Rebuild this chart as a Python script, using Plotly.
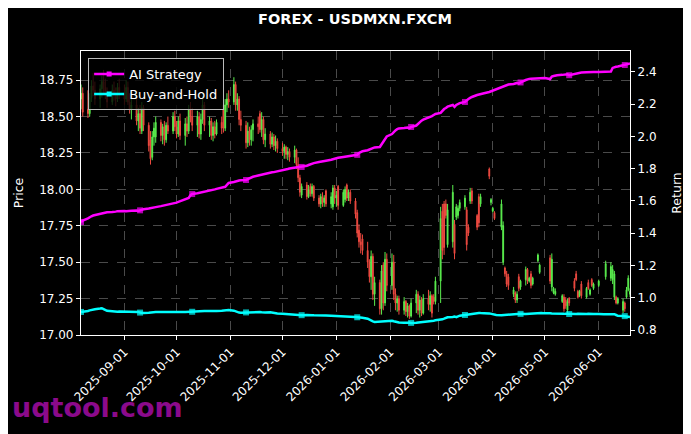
import pandas as pd
import plotly.graph_objects as go

# ---------------- data ----------------
start_date = "2025-08-07"
end_date = "2026-06-19"

# daily OHLC (USDMXN), one value per business day, None = no candle
price_open = (
    [18.62,18.66,18.55,18.52,18.63,18.71,18.68,18.62,18.69,18.74,18.70,18.66,18.60,18.68,18.65,18.62,18.70]  # Aug
    + [18.66,18.62,18.70,18.60,18.55,18.58,18.47,18.52,18.40,18.56,18.44,18.34,18.22,18.36,18.36,18.46,18.37,18.43,18.34,18.44,18.40,18.50]  # Sep
    + [18.43,18.38,18.47,18.37,18.45,18.40,18.55,18.50,18.44,18.50,18.38,18.48,18.58,18.44,18.47,18.37,18.43,18.38,18.46,18.58,18.42,18.58,18.62]  # Oct
    + [18.60,18.72,18.58,18.62,18.48,18.44,18.32,18.40,18.34,18.41,18.45,18.52,18.41,18.48,18.34,18.38,18.31,18.36,18.30,18.33]  # Nov
    + [18.28,18.26,18.29,18.24,18.26,18.22,18.27,18.17,18.08,17.96,18.03,17.95,18.02,17.97,18.02,17.94,17.90,17.95,17.91,17.99,17.90,17.88,18.01]  # Dec
    + [17.94,18.02,17.89,17.93,18.03,17.94,17.98,17.92,17.84,17.72,17.64,17.66,17.58,17.50,17.40,17.54,17.28,17.36,17.18,17.48,17.22,17.52]  # Jan
    + [17.34,17.50,17.28,17.22,17.25,17.17,17.23,17.16,17.20,17.13,17.22,17.28,17.17,17.24,17.15,17.25,17.21,17.27,17.26,17.23]  # Feb
    + [17.37,17.85,17.90,17.90,17.62,17.64,17.76,17.81,17.82,17.87,17.88,17.86,17.74,17.92,17.99,17.82,17.95,17.90,None,None,18.14,17.91]  # Mar
    + [17.85,17.84,None,17.74,17.50,17.46,17.42,17.40,17.28,17.29,17.24,17.40,17.33,17.38,17.45,17.37,17.42,17.35,17.51,17.43,None,None]  # Apr
    + [None,17.53,17.33,17.29,17.28,None,17.23,17.26,17.24,17.17,17.25,17.37,17.42,17.30,17.27,17.35,17.26,17.36,17.28,17.38,17.32]  # May
    + [17.34,None,None,None,17.40,17.39,17.38,17.26,17.26,17.22,17.17,17.22,17.26,17.31,17.28]  # Jun
)
price_high = (
    [18.72,18.70,18.68,18.66,18.75,18.80,18.74,18.72,18.78,18.82,18.76,18.70,18.72,18.74,18.70,18.73,18.76]
    + [18.72,18.75,18.74,18.66,18.62,18.64,18.56,18.58,18.60,18.58,18.46,18.40,18.40,18.46,18.50,18.48,18.45,18.47,18.46,18.50,18.53,18.54]
    + [18.47,18.50,18.52,18.49,18.50,18.58,18.60,18.56,18.54,18.53,18.52,18.64,18.60,18.50,18.49,18.46,18.47,18.48,18.50,18.60,18.62,18.66,18.68]
    + [18.77,18.74,18.66,18.64,18.54,18.47,18.46,18.43,18.44,18.48,18.50,18.54,18.53,18.50,18.42,18.40,18.39,18.38,18.37,18.35]
    + [18.32,18.31,18.30,18.29,18.28,18.30,18.28,18.22,18.10,18.04,18.05,18.03,18.04,18.04,18.03,17.96,17.97,17.98,17.96,18.00,17.98,18.03,18.03]
    + [17.99,18.03,18.00,18.02,18.04,18.00,18.00,17.94,17.86,17.76,17.70,17.69,17.64,17.52,17.58,17.56,17.40,17.38,17.48,17.50,17.57,17.56]
    + [17.56,17.55,17.32,17.27,17.27,17.26,17.24,17.22,17.21,17.25,17.31,17.30,17.27,17.26,17.28,17.31,17.30,17.28,17.28,17.40]
    + [17.88,17.90,17.92,17.93,17.90,18.03,17.79,17.90,17.89,17.93,17.96,17.88,17.76,18.01,18.01,17.83,17.97,17.97,None,None,18.15,17.94]
    + [17.88,17.85,None,17.93,17.78,17.47,17.44,17.42,17.33,17.30,17.30,17.42,17.38,17.47,17.46,17.40,17.44,17.40,17.56,17.49,None,None]
    + [None,17.55,17.56,17.33,17.32,None,17.28,17.28,17.26,17.25,17.26,17.39,17.44,17.31,17.31,17.37,17.33,17.38,17.32,17.39,17.36]
    + [17.38,None,None,None,17.51,17.50,17.48,17.44,17.27,17.26,17.25,17.23,17.33,17.41,17.32]
)
price_low = (
    [18.55,18.50,18.49,18.50,18.60,18.64,18.58,18.56,18.63,18.66,18.62,18.56,18.58,18.61,18.57,18.60,18.62]
    + [18.58,18.60,18.58,18.52,18.48,18.44,18.40,18.38,18.38,18.40,18.26,18.17,18.20,18.30,18.32,18.33,18.31,18.30,18.32,18.38,18.38,18.40]
    + [18.35,18.36,18.34,18.30,18.36,18.38,18.46,18.40,18.36,18.35,18.34,18.45,18.40,18.36,18.34,18.33,18.35,18.37,18.38,18.39,18.40,18.53,18.56]
    + [18.58,18.54,18.54,18.44,18.40,18.28,18.29,18.30,18.30,18.33,18.38,18.39,18.36,18.31,18.29,18.28,18.29,18.27,18.26,18.25]
    + [18.23,18.21,18.21,18.20,18.19,18.18,18.14,18.05,17.95,17.94,17.93,17.94,17.95,17.95,17.92,17.88,17.87,17.88,17.88,17.88,17.87,17.86,17.90]
    + [17.88,17.86,17.88,17.91,17.92,17.92,17.90,17.80,17.67,17.60,17.56,17.55,17.46,17.36,17.31,17.24,17.20,17.14,17.14,17.17,17.20,17.30]
    + [17.31,17.24,17.17,17.16,17.14,17.14,17.13,17.12,17.11,17.12,17.15,17.14,17.12,17.13,17.14,17.17,17.16,17.12,17.21,17.21]
    + [17.22,17.52,17.55,17.80,17.60,17.60,17.52,17.79,17.80,17.85,17.86,17.58,17.68,17.90,17.90,17.72,17.74,17.88,None,None,18.07,17.89]
    + [17.84,17.79,None,17.72,17.48,17.40,17.33,17.31,17.26,17.22,17.22,17.30,17.31,17.34,17.35,17.36,17.32,17.34,17.50,17.42,None,None]
    + [None,17.35,17.30,17.28,17.27,None,17.22,17.16,17.18,17.15,17.20,17.30,17.37,17.25,17.26,17.25,17.25,17.31,17.27,17.33,17.31]
    + [17.33,None,None,None,17.38,17.37,17.35,17.24,17.21,17.21,17.15,17.16,17.25,17.30,17.26]
)
price_close = (
    [18.66,18.53,18.52,18.63,18.71,18.68,18.62,18.69,18.74,18.70,18.66,18.60,18.68,18.65,18.62,18.70,18.66]
    + [18.62,18.70,18.60,18.55,18.58,18.47,18.52,18.42,18.56,18.44,18.30,18.21,18.36,18.42,18.46,18.37,18.43,18.34,18.44,18.40,18.50,18.43]
    + [18.38,18.47,18.37,18.45,18.40,18.55,18.50,18.44,18.50,18.38,18.48,18.58,18.44,18.47,18.37,18.43,18.38,18.46,18.42,18.42,18.58,18.62,18.60]
    + [18.72,18.58,18.62,18.48,18.44,18.32,18.40,18.34,18.41,18.45,18.43,18.41,18.48,18.34,18.38,18.31,18.36,18.30,18.33,18.28]
    + [18.26,18.29,18.24,18.26,18.22,18.27,18.17,18.08,17.98,18.02,17.95,18.00,17.97,18.02,17.94,17.90,17.95,17.91,17.94,17.90,17.95,18.01,17.94]
    + [17.96,17.89,17.98,18.00,17.94,17.98,17.92,17.83,17.70,17.64,17.62,17.58,17.50,17.40,17.54,17.28,17.36,17.18,17.44,17.22,17.52,17.34]
    + [17.50,17.28,17.22,17.25,17.17,17.23,17.16,17.20,17.13,17.22,17.28,17.17,17.24,17.15,17.25,17.21,17.27,17.15,17.23,17.37]
    + [17.80,17.58,17.60,17.82,17.86,17.98,17.56,17.88,17.87,17.91,17.94,17.62,17.70,17.98,17.92,17.74,17.77,17.95,None,None,18.09,17.93]
    + [17.87,17.80,None,17.90,17.75,17.42,17.35,17.34,17.31,17.24,17.28,17.32,17.37,17.45,17.37,17.39,17.34,17.39,17.55,17.48,None,None]
    + [None,17.37,17.52,17.32,17.30,None,17.27,17.18,17.20,17.23,17.22,17.32,17.38,17.26,17.30,17.27,17.32,17.32,17.31,17.34,17.35]
    + [17.37,None,None,None,17.49,17.47,17.45,17.42,17.22,17.25,17.23,17.18,17.31,17.39,17.30]
)

# cumulative returns (right axis)
ai_strategy = (
    [1.470,1.478,1.492,1.500,1.505,1.510,1.513,1.520,1.524,1.526,1.528,1.530,1.532,1.531,1.534,1.537,1.538]
    + [1.538,1.537,1.539,1.540,1.540,1.541,1.538,1.542,1.546,1.549,1.553,1.556,1.558,1.560,1.562,1.568,1.570,1.572,1.574,1.576,1.583,1.586]
    + [1.590,1.594,1.598,1.610,1.615,1.619,1.636,1.643,1.648,1.650,1.653,1.657,1.660,1.664,1.667,1.669,1.672,1.675,1.682,1.685,1.688,1.700,1.712]
    + [1.718,1.722,1.725,1.727,1.728,1.730,1.736,1.741,1.745,1.750,1.758,1.761,1.764,1.767,1.770,1.776,1.778,1.779,1.781,1.784]
    + [1.788,1.791,1.795,1.798,1.801,1.805,1.807,1.809,1.810,1.811,1.818,1.823,1.828,1.832,1.835,1.842,1.845,1.847,1.849,1.850,1.856,1.860,1.863]
    + [1.866,1.868,1.873,1.875,1.878,1.880,1.882,1.885,1.886,1.898,1.904,1.908,1.915,1.920,1.925,1.929,1.932,1.935,1.950,1.968,1.985,2.000]
    + [2.015,2.028,2.038,2.045,2.050,2.053,2.055,2.056,2.052,2.059,2.068,2.080,2.090,2.098,2.104,2.115,2.120,2.126,2.133,2.140]
    + [2.146,2.160,2.170,2.177,2.185,2.195,2.183,2.195,2.200,2.207,2.214,2.225,2.232,2.239,2.245,2.257,2.259,2.261,2.264,2.268,2.276,2.280]
    + [2.285,2.290,2.295,2.303,2.307,2.312,2.318,2.322,2.326,2.330,2.332,2.328,2.335,2.350,2.355,2.357,2.358,2.359,2.360,2.361,2.362,2.362]
    + [2.363,2.356,2.372,2.375,2.378,2.380,2.382,2.384,2.386,2.385,2.380,2.388,2.390,2.392,2.394,2.396,2.398,2.399,2.400,2.400,2.400]
    + [2.400,2.400,2.401,2.401,2.402,2.403,2.425,2.431,2.432,2.434,2.440,2.443,2.446,2.448,2.452]
)
buy_and_hold = (
    [0.912,0.913,0.918,0.922,0.925,0.927,0.929,0.933,0.935,0.930,0.924,0.919,0.916,0.914,0.915,0.913,0.914]
    + [0.914,0.913,0.912,0.913,0.912,0.910,0.912,0.908,0.906,0.905,0.907,0.909,0.910,0.911,0.912,0.911,0.912,0.913,0.912,0.911,0.912,0.913]
    + [0.912,0.913,0.912,0.911,0.912,0.913,0.912,0.913,0.914,0.915,0.916,0.917,0.918,0.918,0.917,0.916,0.917,0.918,0.920,0.921,0.922,0.923,0.924]
    + [0.920,0.915,0.910,0.908,0.907,0.909,0.910,0.909,0.910,0.911,0.912,0.911,0.910,0.908,0.909,0.910,0.907,0.905,0.903,0.902]
    + [0.900,0.899,0.898,0.896,0.895,0.894,0.893,0.892,0.893,0.892,0.893,0.894,0.893,0.892,0.891,0.892,0.893,0.892,0.891,0.890,0.889,0.888,0.887]
    + [0.886,0.885,0.884,0.883,0.882,0.881,0.882,0.880,0.879,0.881,0.880,0.876,0.870,0.863,0.858,0.853,0.850,0.852,0.856,0.853,0.856,0.858]
    + [0.857,0.854,0.851,0.848,0.846,0.845,0.843,0.845,0.846,0.844,0.845,0.846,0.848,0.850,0.849,0.851,0.853,0.856,0.858,0.860]
    + [0.862,0.866,0.870,0.875,0.879,0.881,0.884,0.880,0.886,0.889,0.893,0.895,0.897,0.899,0.902,0.905,0.906,0.905,0.906,0.904,0.903,0.900]
    + [0.897,0.895,0.893,0.892,0.893,0.895,0.896,0.897,0.898,0.899,0.900,0.901,0.900,0.899,0.900,0.901,0.902,0.903,0.904,0.905,0.905,0.904]
    + [0.905,0.904,0.903,0.902,0.901,0.900,0.899,0.900,0.901,0.900,0.899,0.898,0.899,0.900,0.899,0.898,0.899,0.900,0.899,0.898,0.899]
    + [0.899,0.900,0.899,0.898,0.897,0.898,0.899,0.898,0.893,0.888,0.887,0.886,0.884,0.882,0.881]
)

marker_dates = ["2025-08-07", "2025-09-10", "2025-10-10", "2025-11-10", "2025-12-12",
                "2026-01-13", "2026-02-13", "2026-03-16", "2026-04-17", "2026-05-15", "2026-06-16"]

series_names = ["AI Strategy", "Buy-and-Hold"]
title_text = "FOREX - USDMXN.FXCM"

# ---------------- figure ----------------
dates = pd.bdate_range(start_date, end_date)
n = len(dates)
assert len(price_open) == n and len(price_high) == n and len(price_low) == n and len(price_close) == n
assert len(ai_strategy) == n and len(buy_and_hold) == n

mset = set(pd.to_datetime(marker_dates))
msizes = [6 if d in mset else 0 for d in dates]

GREEN = "#5AEE4E"
RED = "#EE4A40"
FONT = "DejaVu Sans"
COLORS = ["#FF00FF", "#00FFFF"]

fig = go.Figure()
fig.add_trace(go.Candlestick(
    x=dates, open=price_open, high=price_high, low=price_low, close=price_close,
    increasing=dict(line=dict(color=GREEN, width=1), fillcolor=GREEN),
    decreasing=dict(line=dict(color=RED, width=1), fillcolor=RED),
    whiskerwidth=0, showlegend=False, yaxis="y", hoverinfo="skip",
))
for name, vals, col in zip(series_names, [ai_strategy, buy_and_hold], COLORS):
    fig.add_trace(go.Scatter(
        x=dates, y=vals, name=name, mode="lines+markers", yaxis="y2",
        line=dict(color=col, width=2.5), showlegend=False,
        marker=dict(symbol="square", size=msizes, color=col, line=dict(width=0)),
    ))
# legend entries (line with a square marker, as in the original)
for name, col in zip(series_names, COLORS):
    fig.add_trace(go.Scatter(
        x=[None], y=[None], name=name, mode="lines+markers", yaxis="y2",
        line=dict(color=col, width=2.5),
        marker=dict(symbol="square", size=5, color=col),
    ))

axis_common = dict(
    showline=True, linecolor="white", linewidth=1.2,
    ticks="outside", ticklen=4, tickcolor="white", tickwidth=1,
    tickfont=dict(family=FONT, size=12, color="white"),
    zeroline=False, automargin=False,
)

# the page adds an 8px body margin, so the figure is sized to sit inside it
fig.update_layout(
    width=683, height=426,
    margin=dict(l=73, r=61, t=43, b=99, pad=0),
    paper_bgcolor="black", plot_bgcolor="black",
    font=dict(family=FONT, size=12, color="white"),
    title=dict(text="<b>" + title_text + "</b>", x=0.508, xanchor="center",
               y=0.975, yanchor="middle", font=dict(family=FONT, size=14.5, color="white")),
    xaxis=dict(
        type="date", range=[dates[0], dates[-1]],
        tickformat="%Y-%m-%d", dtick="M1", tick0="2025-09-01", tickangle=-45,
        showgrid=True, gridcolor="#4a4a4a", griddash="dash", gridwidth=0.8,
        mirror=True, rangeslider=dict(visible=False), **axis_common,
    ),
    yaxis=dict(
        range=[17.0, 18.95], dtick=0.25, tick0=17.0, tickformat=".2f",
        title=dict(text="Price", font=dict(family=FONT, size=12.5, color="white"), standoff=12),
        showgrid=True, gridcolor="#4a4a4a", griddash="dash", gridwidth=0.8,
        **axis_common,
    ),
    yaxis2=dict(
        overlaying="y", side="right", anchor="x",
        range=[0.769, 2.53], dtick=0.2, tick0=0.8, tickformat=".1f",
        title=dict(text="Return", font=dict(family=FONT, size=12.5, color="white"), standoff=16),
        showgrid=False, **axis_common,
    ),
    legend=dict(
        x=0.013, y=0.975, xanchor="left", yanchor="top",
        bgcolor="rgba(0,0,0,0.8)", bordercolor="#bbbbbb", borderwidth=1,
        font=dict(family=FONT, size=13, color="white"),
    ),
    annotations=[dict(
        text="<b>uqtool.com</b>", xref="paper", yref="paper",
        x=-0.129, y=-0.257, xanchor="left", yanchor="middle", showarrow=False,
        font=dict(family=FONT, size=27, color="#8B0A8B"),
    )],
)

fig.write_html("out.html")
